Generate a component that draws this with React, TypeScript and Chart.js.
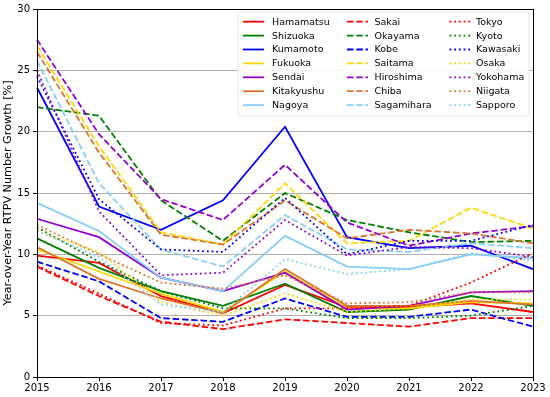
import React, { useEffect, useRef } from "react";
import { Chart, registerables } from "chart.js";

Chart.register(...registerables);

const years = ["2015", "2016", "2017", "2018", "2019", "2020", "2021", "2022", "2023"];

const hamamatsu = [9.9, 9.3, 6.6, 5.2, 7.5, 5.7, 5.7, 6.0, 5.3];
const shizuoka = [11.3, 8.9, 7.0, 5.8, 7.6, 5.3, 5.5, 6.6, 5.8];
const kumamoto = [23.6, 13.9, 12.0, 14.4, 20.4, 11.4, 10.5, 10.7, 8.8];
const fukuoka = [10.4, 8.6, 6.8, 5.3, 8.6, 5.6, 5.6, 6.1, 6.0];
const sendai = [12.9, 11.4, 8.1, 7.0, 8.5, 5.5, 5.8, 6.9, 7.0];
const kitakyushu = [10.6, 8.0, 6.4, 5.2, 8.8, 5.8, 5.8, 6.2, 5.9];
const nagoya = [14.2, 11.9, 8.1, 7.0, 11.5, 9.0, 8.8, 10.0, 9.7];
const sakai = [9.0, 6.6, 4.5, 3.9, 4.7, 4.4, 4.1, 4.8, 4.8];
const okayama = [22.0, 21.3, 14.4, 11.1, 15.0, 12.8, 11.8, 11.0, 11.1];
const kobe = [9.4, 7.8, 4.8, 4.5, 6.4, 4.9, 4.9, 5.5, 4.1];
const saitama = [27.0, 18.8, 11.8, 10.8, 15.8, 10.9, 11.1, 13.8, 12.1];
const hiroshima = [27.5, 19.8, 14.5, 12.8, 17.3, 12.6, 10.7, 11.7, 12.3];
const chiba = [26.5, 18.3, 11.6, 10.8, 14.4, 11.3, 12.0, 11.7, 10.9];
const sagamihara = [25.8, 15.8, 10.4, 9.0, 13.2, 10.4, 10.2, 10.9, 10.5];
const tokyo = [9.1, 6.8, 4.4, 4.2, 5.6, 5.6, 5.8, 7.7, 10.1];
const kyoto = [12.2, 9.4, 7.0, 5.6, 5.6, 4.8, 4.8, 5.0, 5.8];
const kawasaki = [24.5, 14.5, 10.4, 10.2, 14.6, 10.0, 11.1, 11.1, 12.4];
const osaka = [11.9, 10.2, 6.1, 5.0, 6.8, 5.3, 5.6, 6.3, 6.3];
const yokohama = [25.0, 13.5, 8.3, 8.5, 12.8, 9.9, 10.6, 10.5, 9.8];
const niigata = [12.4, 10.0, 7.7, 7.2, 8.3, 6.0, 6.1, 6.9, 6.9];
const sapporo = [11.9, 9.8, 5.9, 5.3, 9.6, 8.4, 8.8, 10.1, 9.5];

const cityNames = [
  "Hamamatsu", "Shizuoka", "Kumamoto", "Fukuoka", "Sendai", "Kitakyushu", "Nagoya",
  "Sakai", "Okayama", "Kobe", "Saitama", "Hiroshima", "Chiba", "Sagamihara",
  "Tokyo", "Kyoto", "Kawasaki", "Osaka", "Yokohama", "Niigata", "Sapporo",
];
const cityValues = [
  hamamatsu, shizuoka, kumamoto, fukuoka, sendai, kitakyushu, nagoya,
  sakai, okayama, kobe, saitama, hiroshima, chiba, sagamihara,
  tokyo, kyoto, kawasaki, osaka, yokohama, niigata, sapporo,
];

const palette = ["#ff0000", "#007f00", "#0000ff", "#ffd700", "#9400d3", "#dc7430", "#87cefa"];
const LW = 1.8;
const dashes: number[][] = [[], [6.5, 2.8], [1.8, 2.9]];

const FONT = "'DejaVu Sans', sans-serif";
const FS = 9.5;
const TICK_FS = 10;
const TITLE_FS = 11.2;

const legendPlugin = {
  id: "mplLegend",
  afterDraw(chart: any) {
    const ctx = chart.ctx;
    const area = chart.chartArea;
    ctx.save();
    // spines
    ctx.strokeStyle = "#000";
    ctx.lineWidth = 1;
    ctx.strokeRect(Math.round(area.left) + 0.5, Math.round(area.top) + 0.5,
      Math.round(area.right - area.left), Math.round(area.bottom - area.top));
    // legend frame
    const bx = 238, by = 12, bw = 291, bh = 104;
    ctx.fillStyle = "rgba(255,255,255,0.85)";
    ctx.strokeStyle = "#e4e4e4";
    ctx.lineWidth = 1;
    ctx.beginPath();
    const r = 3;
    ctx.moveTo(bx + r, by);
    ctx.lineTo(bx + bw - r, by);
    ctx.arcTo(bx + bw, by, bx + bw, by + r, r);
    ctx.lineTo(bx + bw, by + bh - r);
    ctx.arcTo(bx + bw, by + bh, bx + bw - r, by + bh, r);
    ctx.lineTo(bx + r, by + bh);
    ctx.arcTo(bx, by + bh, bx, by + bh - r, r);
    ctx.lineTo(bx, by + r);
    ctx.arcTo(bx, by, bx + r, by, r);
    ctx.closePath();
    ctx.fill();
    ctx.stroke();

    const colLine = [243, 347, 449.5];
    const colText = [272, 374.5, 476];
    const rowY0 = 21.7;
    const rowDy = 13.9;
    ctx.font = `${FS}px ${FONT}`;
    ctx.textBaseline = "middle";
    ctx.textAlign = "left";
    cityNames.forEach((name, i) => {
      const col = Math.floor(i / 7);
      const row = i % 7;
      const y = rowY0 + row * rowDy;
      ctx.strokeStyle = palette[row];
      ctx.lineWidth = LW;
      ctx.setLineDash(dashes[col]);
      ctx.beginPath();
      ctx.moveTo(colLine[col], y);
      ctx.lineTo(colLine[col] + 21, y);
      ctx.stroke();
      ctx.setLineDash([]);
      ctx.fillStyle = "#000";
      ctx.fillText(name, colText[col], y + 0.5);
    });
    ctx.restore();
  },
};

export default function App() {
  const ref = useRef<HTMLCanvasElement | null>(null);
  useEffect(() => {
    document.body.style.margin = "0";
    const canvas = ref.current;
    if (!canvas) return;
    const datasets = cityNames.map((name, i) => {
      const col = Math.floor(i / 7);
      const row = i % 7;
      return {
        label: name,
        data: cityValues[i],
        borderColor: palette[row],
        backgroundColor: palette[row],
        borderWidth: LW,
        borderDash: dashes[col],
        pointRadius: 0,
        tension: 0,
        fill: false,
        order: cityNames.length - i,
      };
    });
    const chart = new Chart(canvas, {
      type: "line",
      data: { labels: years, datasets },
      options: {
        animation: false,
        responsive: false,
        devicePixelRatio: 1,
        layout: { padding: { top: 9, right: 17, left: 0, bottom: 0 } },
        plugins: { legend: { display: false }, tooltip: { enabled: false } },
        scales: {
          x: {
            offset: false,
            grid: { drawOnChartArea: false, drawTicks: true, tickLength: 4, tickColor: "#000" },
            border: { color: "#000", width: 1 },
            ticks: {
              autoSkip: false,
              maxRotation: 0,
              padding: 1,
              color: "#000",
              font: { family: FONT, size: TICK_FS },
            },
            afterFit: (s: any) => { s.height = 20; },
          },
          y: {
            min: 0,
            max: 30,
            grid: { color: "#b0b0b0", lineWidth: 1, drawTicks: true, tickLength: 4, tickColor: "#000" },
            border: { color: "#000", width: 1 },
            ticks: {
              stepSize: 5,
              padding: 3,
              color: "#000",
              font: { family: FONT, size: TICK_FS },
            },
            title: {
              display: true,
              text: "Year-over-Year RTPV Number Growth [%]",
              color: "#000",
              font: { family: FONT, size: TITLE_FS },
              padding: { top: 1, bottom: 1 },
            },
            afterFit: (s: any) => { s.width = 37; },
          },
        },
      },
      plugins: [legendPlugin],
    });
    return () => chart.destroy();
  }, []);
  return (
    <div style={{ width: 550, height: 397 }}>
      <canvas ref={ref} width={550} height={397} style={{ display: "block" }} />
    </div>
  );
}
